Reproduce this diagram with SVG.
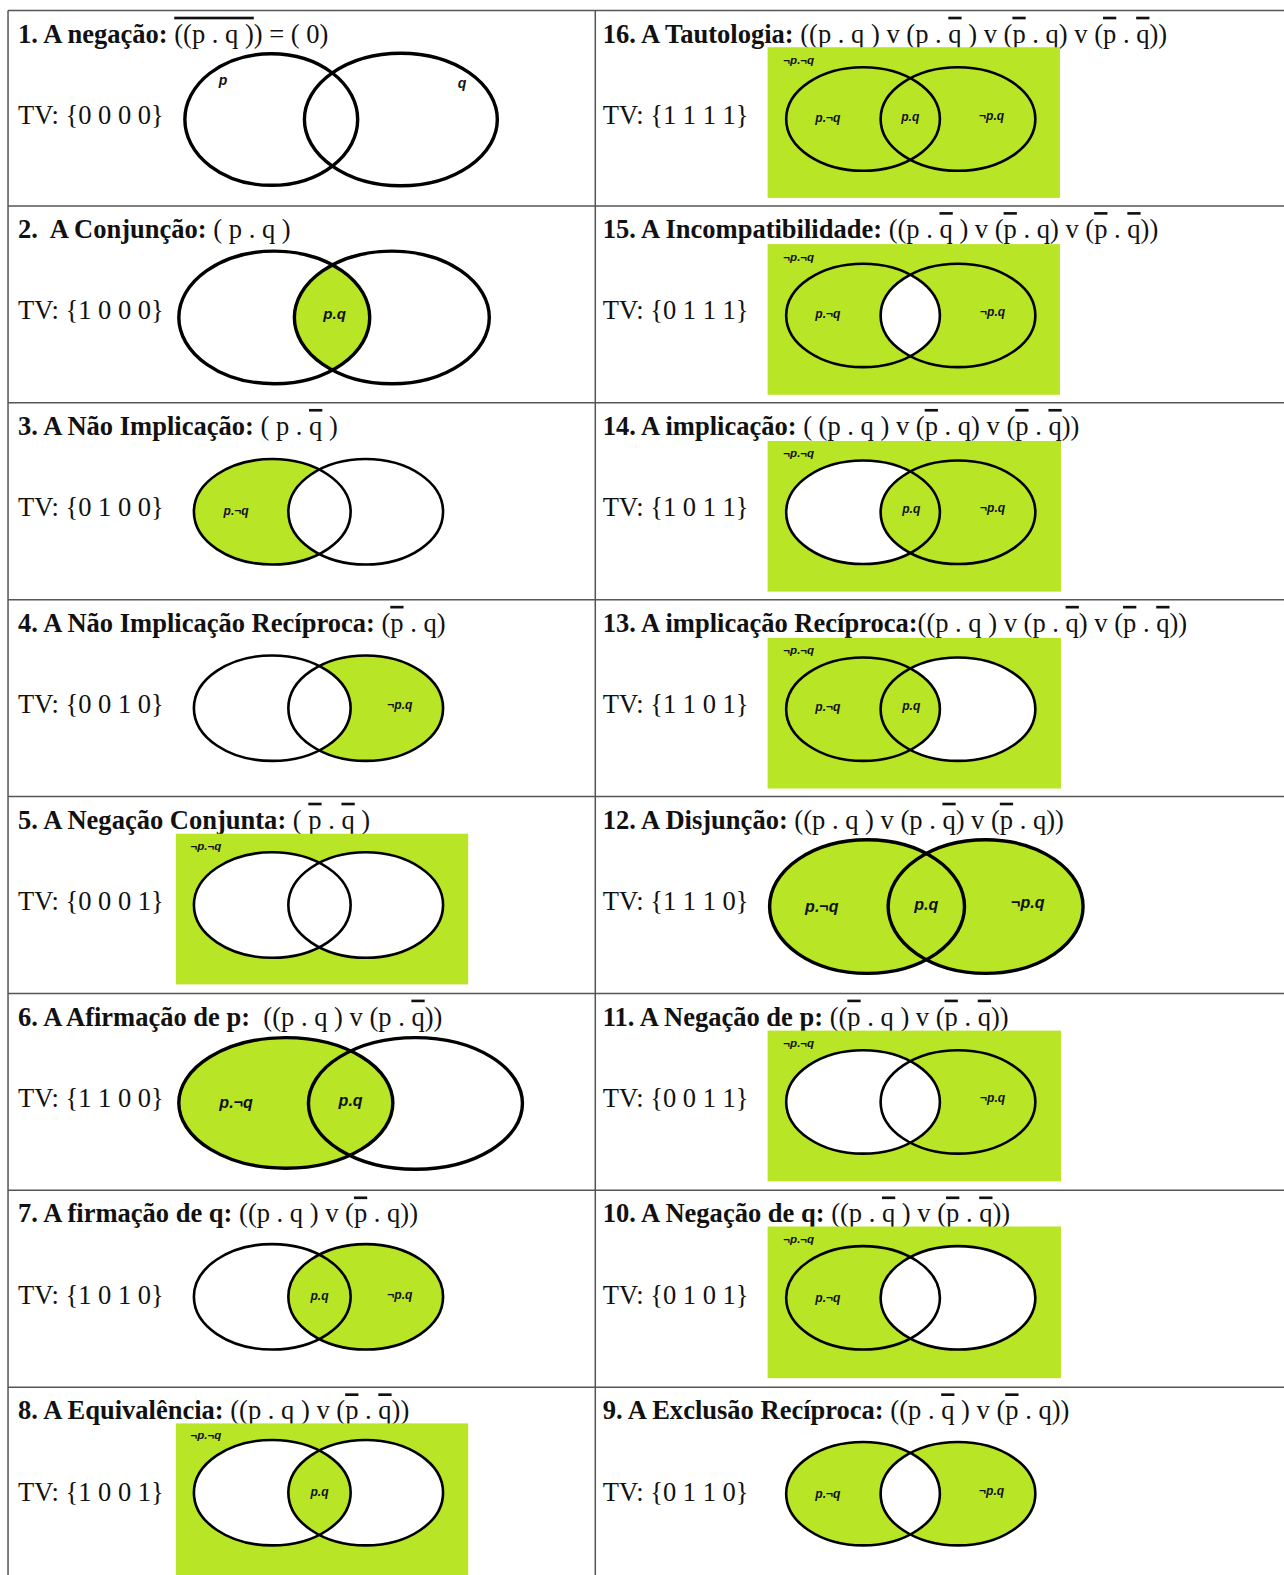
<svg xmlns="http://www.w3.org/2000/svg" width="1284" height="1575" viewBox="0 0 1284 1575">
<style>
.t{font-family:"Liberation Serif","Times New Roman",serif;font-size:26.4px;fill:#111;white-space:pre}
.b{font-weight:bold}
.ov{text-decoration:overline}
.lb{font-family:"Liberation Sans",Arial,sans-serif;font-weight:bold;font-style:italic;fill:#111;text-anchor:middle}
.s{font-size:11.5px}.m{font-size:12px}.l{font-size:16px}
.e{fill:none;stroke:#000;stroke-width:2.6}
.eb{fill:none;stroke:#000;stroke-width:3.4}
.g{fill:#b8e526}
.w{fill:#fff}
.grid{stroke:#555;stroke-width:1.5;fill:none}
</style>
<defs>
<clipPath id="k2"><ellipse cx="273" cy="316" rx="95" ry="66"/></clipPath>
<clipPath id="k15"><ellipse cx="859" cy="314" rx="76.5" ry="51.5"/></clipPath>
<clipPath id="k3"><ellipse cx="271" cy="509.5" rx="78" ry="52.5"/></clipPath>
<clipPath id="k14"><ellipse cx="859" cy="510" rx="76.5" ry="51.5"/></clipPath>
<clipPath id="k4"><ellipse cx="271" cy="705" rx="78" ry="52.5"/></clipPath>
<clipPath id="k13"><ellipse cx="859" cy="706" rx="76.5" ry="51.5"/></clipPath>
<clipPath id="k8"><ellipse cx="271" cy="1486" rx="78" ry="52.5"/></clipPath>
<clipPath id="k9"><ellipse cx="859" cy="1487" rx="76.5" ry="51.5"/></clipPath>
</defs>
<g transform="scale(1.0047,1.0045)">
<g id="connectors" class="grid">
<line x1="8" y1="10.5" x2="1280" y2="10.5"/>
<line x1="8" y1="205" x2="1280" y2="205"/>
<line x1="8" y1="401" x2="1280" y2="401"/>
<line x1="8" y1="597" x2="1280" y2="597"/>
<line x1="8" y1="793" x2="1280" y2="793"/>
<line x1="8" y1="989" x2="1280" y2="989"/>
<line x1="8" y1="1185" x2="1280" y2="1185"/>
<line x1="8" y1="1381" x2="1280" y2="1381"/>
<line x1="8" y1="10.5" x2="8" y2="1570"/>
<line x1="592.5" y1="10.5" x2="592.5" y2="1570"/>
</g>

<g id="cell1">
<text class="t" x="18" y="42.5"><tspan class="b">1. A negação:</tspan> <tspan class="ov">((p . q )</tspan>) = ( 0)</text>
<text class="t" x="18" y="123.5">TV: {0 0 0 0}</text>
<ellipse class="eb" cx="270" cy="119" rx="86" ry="65.5"/>
<ellipse class="eb" cx="399" cy="119" rx="96" ry="66"/>
<text class="lb" style="font-size:14px" x="222" y="85">p</text>
<text class="lb" style="font-size:14px" x="460" y="88">q</text>
</g>

<g id="cell16">
<text class="t" x="600" y="42.5"><tspan class="b">16. A Tautologia:</tspan> ((p . q ) v (p . <tspan class="ov">q</tspan> ) v (<tspan class="ov">p</tspan> . q) v (<tspan class="ov">p</tspan> . <tspan class="ov">q</tspan>))</text>
<text class="t" x="600" y="123.5">TV: {1 1 1 1}</text>
<rect class="g" x="764" y="47" width="291" height="150"/>
<ellipse class="e" cx="859" cy="118.5" rx="76.5" ry="51.5"/>
<ellipse class="e" cx="953.5" cy="118.5" rx="77" ry="51.5"/>
<text class="lb s" x="795" y="64">¬p.¬q</text>
<text class="lb m" x="824" y="121">p.¬q</text>
<text class="lb m" x="906" y="120">p.q</text>
<text class="lb m" x="987" y="119">¬p.q</text>
</g>

<g id="cell2">
<text class="t" x="18" y="237"><tspan class="b">2.  A Conjunção:</tspan> ( p . q )</text>
<text class="t" x="18" y="318">TV: {1 0 0 0}</text>
<ellipse class="g" cx="390" cy="316" rx="97" ry="66" clip-path="url(#k2)"/>
<ellipse class="eb" cx="273" cy="316" rx="95" ry="66"/>
<ellipse class="eb" cx="390" cy="316" rx="97" ry="66"/>
<text class="lb" style="font-size:15px" x="333" y="318">p.q</text>
</g>

<g id="cell15">
<text class="t" x="600" y="237"><tspan class="b">15. A Incompatibilidade:</tspan> ((p . <tspan class="ov">q</tspan> ) v (<tspan class="ov">p</tspan> . q) v (<tspan class="ov">p</tspan> . <tspan class="ov">q</tspan>))</text>
<text class="t" x="600" y="318">TV: {0 1 1 1}</text>
<rect class="g" x="764" y="243" width="291" height="150"/>
<ellipse class="w" cx="953.5" cy="314" rx="77" ry="51.5" clip-path="url(#k15)"/>
<ellipse class="e" cx="859" cy="314" rx="76.5" ry="51.5"/>
<ellipse class="e" cx="953.5" cy="314" rx="77" ry="51.5"/>
<text class="lb s" x="795" y="260">¬p.¬q</text>
<text class="lb m" x="824" y="317">p.¬q</text>
<text class="lb m" x="988" y="315">¬p.q</text>
</g>

<g id="cell3">
<text class="t" x="18" y="433"><tspan class="b">3. A Não Implicação:</tspan> ( p . <tspan class="ov">q</tspan> )</text>
<text class="t" x="18" y="514">TV: {0 1 0 0}</text>
<ellipse class="g" cx="271" cy="509.5" rx="78" ry="52.5"/>
<ellipse class="w" cx="364" cy="509.5" rx="77" ry="52.5" clip-path="url(#k3)"/>
<ellipse class="e" cx="271" cy="509.5" rx="78" ry="52.5"/>
<ellipse class="e" cx="364" cy="509.5" rx="77" ry="52.5"/>
<text class="lb m" x="235" y="513">p.¬q</text>
</g>

<g id="cell14">
<text class="t" x="600" y="433"><tspan class="b">14. A implicação:</tspan> ( (p . q ) v (<tspan class="ov">p</tspan> . q) v (<tspan class="ov">p</tspan> . <tspan class="ov">q</tspan>))</text>
<text class="t" x="600" y="514">TV: {1 0 1 1}</text>
<rect class="g" x="764" y="439" width="292" height="150"/>
<ellipse class="w" cx="859" cy="510" rx="76.5" ry="51.5"/>
<ellipse class="g" cx="953.5" cy="510" rx="77" ry="51.5" clip-path="url(#k14)"/>
<ellipse class="e" cx="859" cy="510" rx="76.5" ry="51.5"/>
<ellipse class="e" cx="953.5" cy="510" rx="77" ry="51.5"/>
<text class="lb s" x="795" y="455">¬p.¬q</text>
<text class="lb m" x="907" y="511">p.q</text>
<text class="lb m" x="988" y="510">¬p.q</text>
</g>

<g id="cell4">
<text class="t" x="18" y="629"><tspan class="b">4. A Não Implicação Recíproca:</tspan> (<tspan class="ov">p</tspan> . q)</text>
<text class="t" x="18" y="710">TV: {0 0 1 0}</text>
<ellipse class="g" cx="364" cy="705" rx="77" ry="52.5"/>
<ellipse class="w" cx="364" cy="705" rx="77" ry="52.5" clip-path="url(#k4)"/>
<ellipse class="e" cx="271" cy="705" rx="78" ry="52.5"/>
<ellipse class="e" cx="364" cy="705" rx="77" ry="52.5"/>
<text class="lb m" x="398" y="706">¬p.q</text>
</g>

<g id="cell13">
<text class="t" x="600" y="629"><tspan class="b">13. A implicação Recíproca:</tspan>((p . q ) v (p . <tspan class="ov">q</tspan>) v (<tspan class="ov">p</tspan> . <tspan class="ov">q</tspan>))</text>
<text class="t" x="600" y="710">TV: {1 1 0 1}</text>
<rect class="g" x="764" y="635" width="292" height="150"/>
<ellipse class="w" cx="953.5" cy="706" rx="77" ry="51.5"/>
<ellipse class="g" cx="953.5" cy="706" rx="77" ry="51.5" clip-path="url(#k13)"/>
<ellipse class="e" cx="859" cy="706" rx="76.5" ry="51.5"/>
<ellipse class="e" cx="953.5" cy="706" rx="77" ry="51.5"/>
<text class="lb s" x="795" y="651">¬p.¬q</text>
<text class="lb m" x="824" y="708">p.¬q</text>
<text class="lb m" x="907" y="707">p.q</text>
</g>

<g id="cell5">
<text class="t" x="18" y="825"><tspan class="b">5. A Negação Conjunta:</tspan> ( <tspan class="ov">p</tspan> . <tspan class="ov">q</tspan> )</text>
<text class="t" x="18" y="906">TV: {0 0 0 1}</text>
<rect class="g" x="175" y="830" width="291" height="150"/>
<ellipse class="w" cx="271" cy="901" rx="78" ry="52.5"/>
<ellipse class="w" cx="364" cy="901" rx="77" ry="52.5"/>
<ellipse class="e" cx="271" cy="901" rx="78" ry="52.5"/>
<ellipse class="e" cx="364" cy="901" rx="77" ry="52.5"/>
<text class="lb s" x="205" y="846">¬p.¬q</text>
</g>

<g id="cell12">
<text class="t" x="600" y="825"><tspan class="b">12. A Disjunção:</tspan> ((p . q ) v (p . <tspan class="ov">q</tspan>) v (<tspan class="ov">p</tspan> . q))</text>
<text class="t" x="600" y="906">TV: {1 1 1 0}</text>
<ellipse class="g" cx="863" cy="902.5" rx="97" ry="66.5"/>
<ellipse class="g" cx="981" cy="902.5" rx="97" ry="66.5"/>
<ellipse class="eb" cx="863" cy="902.5" rx="97" ry="66.5"/>
<ellipse class="eb" cx="981" cy="902.5" rx="97" ry="66.5"/>
<text class="lb l" x="818" y="908">p.¬q</text>
<text class="lb l" x="922" y="906">p.q</text>
<text class="lb l" x="1023" y="904">¬p.q</text>
</g>

<g id="cell6">
<text class="t" x="18" y="1021"><tspan class="b">6. A Afirmação de p:</tspan>  ((p . q ) v (p . <tspan class="ov">q</tspan>))</text>
<text class="t" x="18" y="1102">TV: {1 1 0 0}</text>
<ellipse class="g" cx="284.5" cy="1098" rx="106.5" ry="65"/>
<ellipse class="eb" cx="284.5" cy="1098" rx="106.5" ry="65"/>
<ellipse class="eb" cx="413.5" cy="1098.5" rx="106.5" ry="65.5"/>
<text class="lb l" x="235" y="1103">p.¬q</text>
<text class="lb l" x="349" y="1101">p.q</text>
</g>

<g id="cell11">
<text class="t" x="600" y="1021"><tspan class="b">11. A Negação de p:</tspan> ((<tspan class="ov">p</tspan> . q ) v (<tspan class="ov">p</tspan> . <tspan class="ov">q</tspan>))</text>
<text class="t" x="600" y="1102">TV: {0 0 1 1}</text>
<rect class="g" x="764" y="1026" width="292" height="150"/>
<ellipse class="w" cx="859" cy="1097" rx="76.5" ry="51.5"/>
<ellipse class="e" cx="859" cy="1097" rx="76.5" ry="51.5"/>
<ellipse class="e" cx="953.5" cy="1097" rx="77" ry="51.5"/>
<text class="lb s" x="795" y="1042">¬p.¬q</text>
<text class="lb m" x="988" y="1097">¬p.q</text>
</g>

<g id="cell7">
<text class="t" x="18" y="1217"><tspan class="b">7. A firmação de q:</tspan> ((p . q ) v (<tspan class="ov">p</tspan> . q))</text>
<text class="t" x="18" y="1298">TV: {1 0 1 0}</text>
<ellipse class="g" cx="364" cy="1291" rx="77" ry="52.5"/>
<ellipse class="e" cx="271" cy="1291" rx="78" ry="52.5"/>
<ellipse class="e" cx="364" cy="1291" rx="77" ry="52.5"/>
<text class="lb m" x="318" y="1294">p.q</text>
<text class="lb m" x="398" y="1293">¬p.q</text>
</g>

<g id="cell10">
<text class="t" x="600" y="1217"><tspan class="b">10. A Negação de q:</tspan> ((p . <tspan class="ov">q</tspan> ) v (<tspan class="ov">p</tspan> . <tspan class="ov">q</tspan>))</text>
<text class="t" x="600" y="1298">TV: {0 1 0 1}</text>
<rect class="g" x="764" y="1221" width="292" height="151"/>
<ellipse class="w" cx="953.5" cy="1292" rx="77" ry="51.5"/>
<ellipse class="e" cx="859" cy="1292" rx="76.5" ry="51.5"/>
<ellipse class="e" cx="953.5" cy="1292" rx="77" ry="51.5"/>
<text class="lb s" x="795" y="1237">¬p.¬q</text>
<text class="lb m" x="824" y="1296">p.¬q</text>
</g>

<g id="cell8">
<text class="t" x="18" y="1413"><tspan class="b">8. A Equivalência:</tspan> ((p . q ) v (<tspan class="ov">p</tspan> . <tspan class="ov">q</tspan>))</text>
<text class="t" x="18" y="1494">TV: {1 0 0 1}</text>
<rect class="g" x="175" y="1417" width="291" height="153"/>
<ellipse class="w" cx="271" cy="1486" rx="78" ry="52.5"/>
<ellipse class="w" cx="364" cy="1486" rx="77" ry="52.5"/>
<ellipse class="g" cx="364" cy="1486" rx="77" ry="52.5" clip-path="url(#k8)"/>
<ellipse class="e" cx="271" cy="1486" rx="78" ry="52.5"/>
<ellipse class="e" cx="364" cy="1486" rx="77" ry="52.5"/>
<text class="lb s" x="205" y="1433">¬p.¬q</text>
<text class="lb m" x="318" y="1489">p.q</text>
</g>

<g id="cell9">
<text class="t" x="600" y="1413"><tspan class="b">9. A Exclusão Recíproca:</tspan> ((p . <tspan class="ov">q</tspan> ) v (<tspan class="ov">p</tspan> . q))</text>
<text class="t" x="600" y="1494">TV: {0 1 1 0}</text>
<ellipse class="g" cx="859" cy="1487" rx="76.5" ry="51.5"/>
<ellipse class="g" cx="953.5" cy="1487" rx="77" ry="51.5"/>
<ellipse class="w" cx="953.5" cy="1487" rx="77" ry="51.5" clip-path="url(#k9)"/>
<ellipse class="e" cx="859" cy="1487" rx="76.5" ry="51.5"/>
<ellipse class="e" cx="953.5" cy="1487" rx="77" ry="51.5"/>
<text class="lb m" x="824" y="1491">p.¬q</text>
<text class="lb m" x="987" y="1488">¬p.q</text>
</g>
</g>
</svg>
